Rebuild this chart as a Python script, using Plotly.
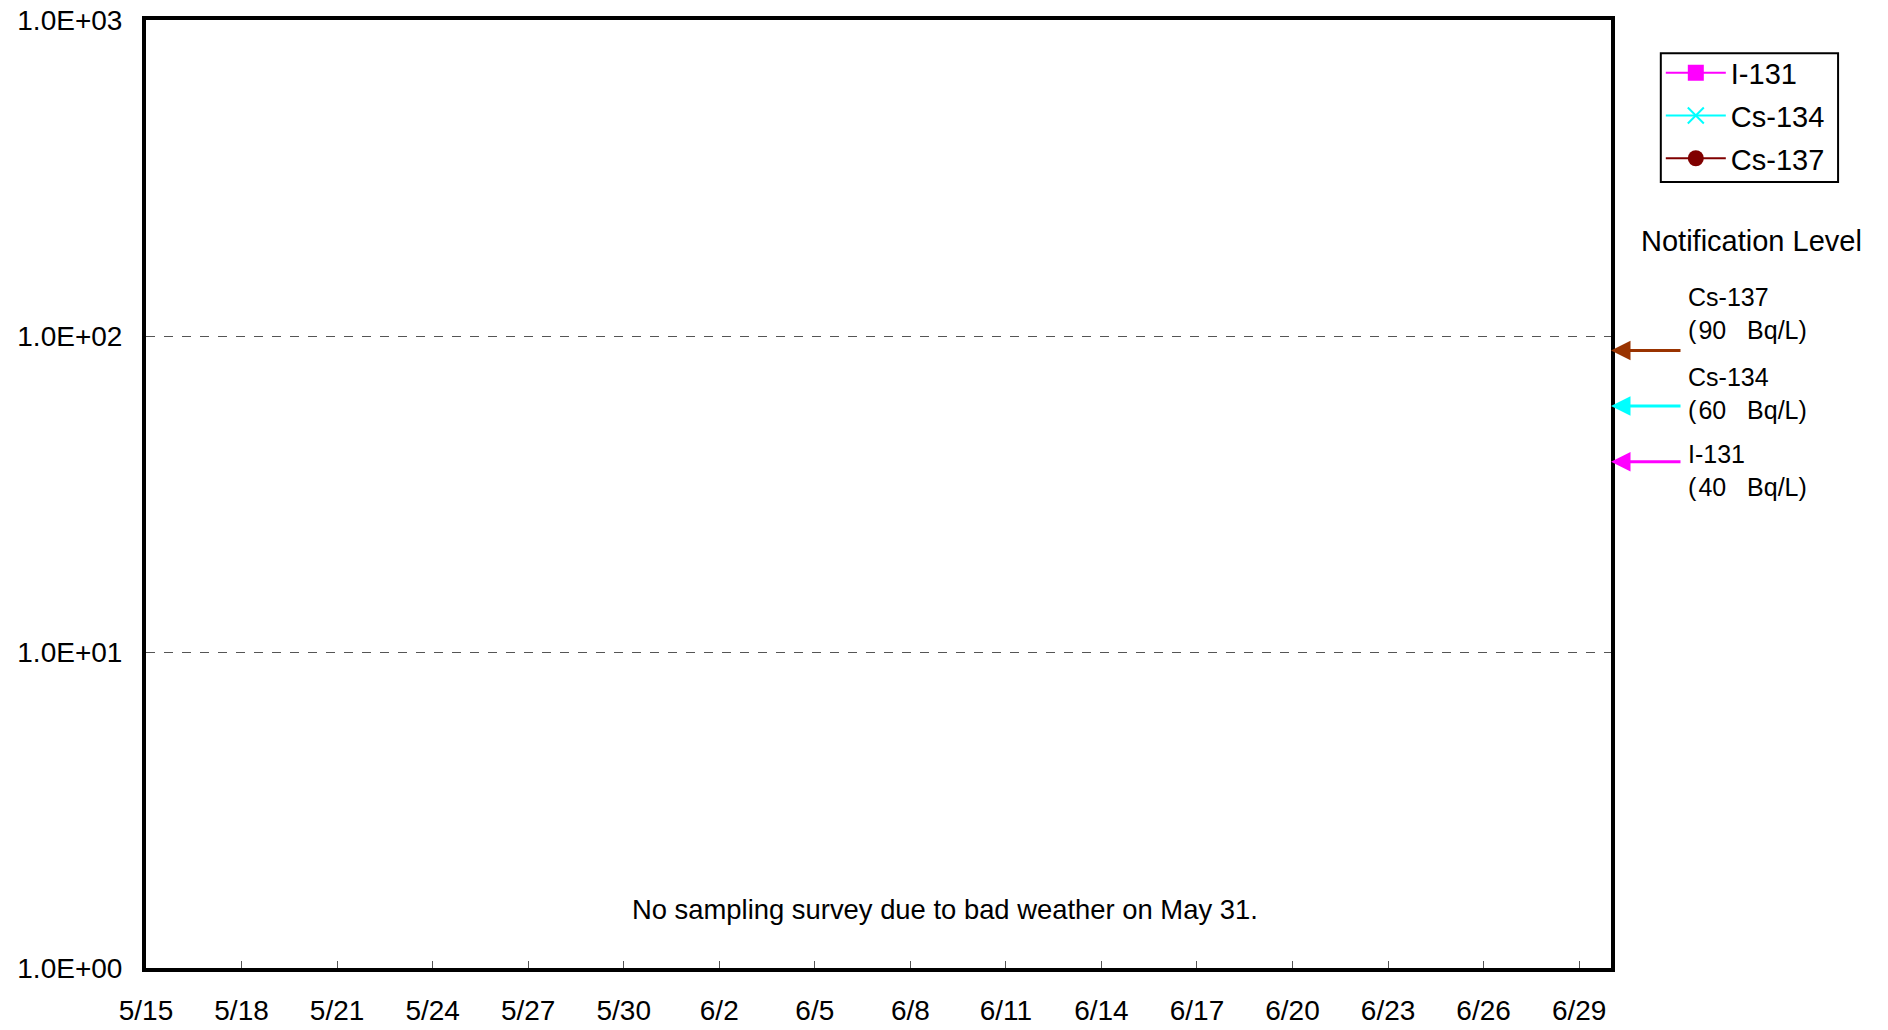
import math
import plotly.graph_objects as go

# ---------------- data ----------------
dates = ["2011-05-%02d" % d for d in range(15, 32)] + ["2011-06-%02d" % d for d in range(1, 31)]
i131 = [None] * len(dates)    # not detected
cs134 = [None] * len(dates)   # not detected
cs137 = [None] * len(dates)   # not detected

tick_dates = ["2011-05-15", "2011-05-18", "2011-05-21", "2011-05-24", "2011-05-27", "2011-05-30",
              "2011-06-02", "2011-06-05", "2011-06-08", "2011-06-11", "2011-06-14", "2011-06-17",
              "2011-06-20", "2011-06-23", "2011-06-26", "2011-06-29"]
tick_labels = ["5/15", "5/18", "5/21", "5/24", "5/27", "5/30", "6/2", "6/5", "6/8", "6/11",
               "6/14", "6/17", "6/20", "6/23", "6/26", "6/29"]
y_tickvals = [1, 10, 100, 1000]
y_ticktext = ["1.0E+00", "1.0E+01", "1.0E+02", "1.0E+03"]

level_names = ["Cs-137", "Cs-134", "I-131"]
level_values = [90, 60, 40]
level_colors = ["#993300", "#00FFFF", "#FF00FF"]
level_label_y = [0.6905, 0.6065, 0.5245]

FONT = "Liberation Sans, Arial, Noto Sans CJK JP, sans-serif"

fig = go.Figure()
fig.add_trace(go.Scatter(x=dates, y=i131, name="I-131", mode="lines+markers",
                         line=dict(color="#FF00FF", width=2),
                         marker=dict(symbol="square", size=16, color="#FF00FF"),
                         legendgroup="a"))
fig.add_trace(go.Scatter(x=dates, y=cs134, name="Cs-134", mode="lines+markers",
                         line=dict(color="#00FFFF", width=2),
                         marker=dict(symbol="x-thin", size=16, color="#00FFFF",
                                     line=dict(color="#00FFFF", width=2)),
                         legendgroup="b"))
fig.add_trace(go.Scatter(x=dates, y=cs137, name="Cs-137", mode="lines+markers",
                         line=dict(color="#800000", width=2),
                         marker=dict(symbol="circle", size=16, color="#800000"),
                         legendgroup="c"))

annotations = []
for name, val, col, ly in zip(level_names, level_values, level_colors, level_label_y):
    annotations.append(dict(x=1, xref="paper", y=math.log10(val), yref="y",
                            text="", showarrow=True, ax=71, ay=0,
                            arrowhead=2, arrowsize=1.3, arrowwidth=3, arrowcolor=col))
    annotations.append(dict(x=1.051, xref="paper", y=ly, yref="paper",
                            xanchor="left", yanchor="middle", align="left", showarrow=False,
                            text=f"{name}<br>(\u200a{val}\u00a0\u00a0\u00a0Bq/L)",
                            font=dict(family=FONT, size=25, color="black")))

annotations.append(dict(x=1.096, xref="paper", y=0.767, yref="paper", showarrow=False,
                        text="Notification Level", xanchor="center", yanchor="middle",
                        font=dict(family=FONT, size=29, color="black")))
annotations.append(dict(x=0.5455, xref="paper", y=0.062, yref="paper", showarrow=False,
                        text="No sampling survey due to bad weather on May 31.",
                        xanchor="center", yanchor="middle",
                        font=dict(family=FONT, size=27.4, color="black")))

fig.update_layout(
    width=1888, height=1030,
    margin=dict(l=146, r=277, t=20, b=62, autoexpand=False),
    paper_bgcolor="white", plot_bgcolor="white",
    font=dict(family=FONT, size=28, color="black"),
    showlegend=True,
    legend=dict(x=1.034, y=0.971, xanchor="left", yanchor="top",
                borderwidth=0, bgcolor="rgba(0,0,0,0)",
                font=dict(family=FONT, size=29, color="black"),
                traceorder="grouped", tracegroupgap=2, itemwidth=60),
    shapes=[dict(type="rect", xref="paper", yref="paper",
                 x0=1.034, x1=1.155, y0=0.829, y1=0.965,
                 line=dict(color="black", width=2), fillcolor="rgba(0,0,0,0)")],
    annotations=annotations,
)
fig.update_xaxes(type="date", range=["2011-05-15", "2011-06-30"],
                 tickvals=tick_dates, ticktext=tick_labels, automargin=False,
                 ticks="inside", ticklen=7, tickwidth=1, tickcolor="#555555",
                 showgrid=False, zeroline=False,
                 showline=True, linecolor="black", linewidth=4, mirror=True,
                 ticklabelstandoff=14,
                 tickfont=dict(family=FONT, size=28, color="black"))
fig.update_yaxes(type="log", range=[0, 3],
                 tickvals=y_tickvals, ticktext=y_ticktext, automargin=False,
                 ticks="", showgrid=True, gridcolor="#555555", gridwidth=1, griddash="dash",
                 zeroline=False,
                 showline=True, linecolor="black", linewidth=4, mirror=True,
                 ticklabelstandoff=14,
                 tickfont=dict(family=FONT, size=28, color="black"))

fig.write_html("out.html", config={"displayModeBar": False},
               post_script="document.body.style.margin='0';document.body.style.overflow='hidden';")
